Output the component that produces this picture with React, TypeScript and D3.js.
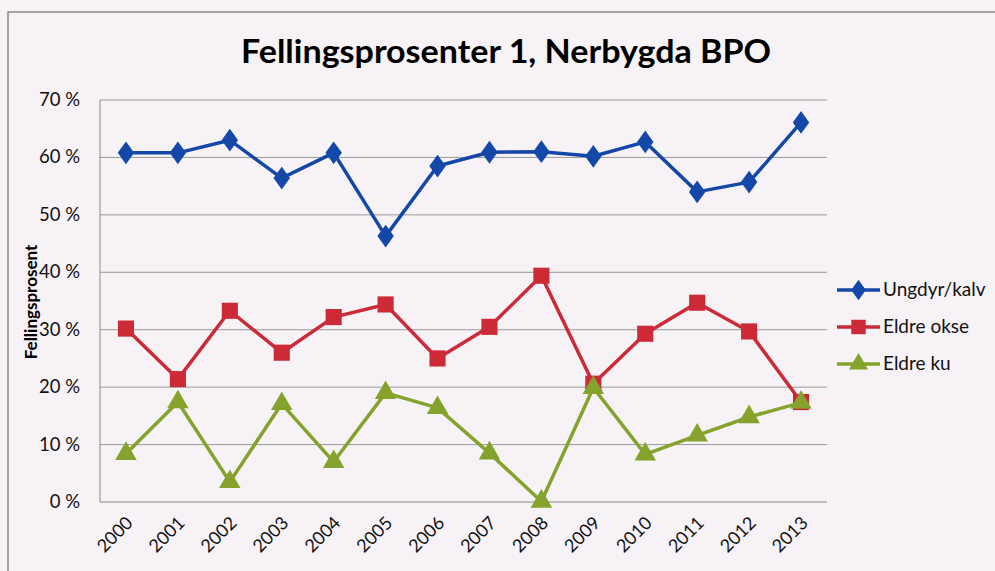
import React, { useEffect, useRef } from 'react'
import * as d3 from 'd3'

const years = ['2000', '2001', '2002', '2003', '2004', '2005', '2006', '2007', '2008', '2009', '2010', '2011', '2012', '2013']
const ungdyr = [60.8, 60.8, 63.0, 56.4, 60.8, 46.3, 58.5, 60.9, 61.0, 60.2, 62.7, 54.0, 55.7, 66.1]
const eldreOkse = [30.2, 21.4, 33.3, 26.0, 32.2, 34.4, 25.0, 30.5, 39.4, 20.6, 29.3, 34.7, 29.7, 17.4]
const eldreKu = [8.4, 17.4, 3.5, 17.1, 7.0, 19.0, 16.4, 8.5, 0.1, 19.9, 8.3, 11.6, 14.8, 17.3]
const yTicks = [0, 10, 20, 30, 40, 50, 60, 70]
const seriesNames = ['Ungdyr/kalv', 'Eldre okse', 'Eldre ku']

const W = 995
const H = 571
const FONT = 'Lato, "Open Sans", sans-serif'

export default function App() {
  const ref = useRef<SVGSVGElement>(null)

  useEffect(() => {
    const svg = d3.select(ref.current)
    svg.selectAll('*').remove()

    const left = 100, right = 827, top = 100, bottom = 502

    svg.append('rect').attr('width', W).attr('height', H).attr('fill', '#f6f2f6')
    // outer chart frame
    svg.append('rect')
      .attr('x', 8).attr('y', 12).attr('width', W + 20).attr('height', H + 20)
      .attr('fill', 'none').attr('stroke', '#8a8a8a').attr('stroke-width', 1.5)

    svg.append('text')
      .attr('x', 506).attr('y', 63)
      .attr('text-anchor', 'middle')
      .attr('font-family', FONT).attr('font-weight', 'bold').attr('font-size', 32)
      .attr('textLength', 530).attr('lengthAdjust', 'spacingAndGlyphs')
      .attr('fill', '#000')
      .text('Fellingsprosenter 1, Nerbygda BPO')

    const x = d3.scaleBand().domain(years).range([left, right])
    const y = d3.scaleLinear().domain([0, 70]).range([bottom, top])

    // gridlines
    svg.append('g').selectAll('line').data(yTicks.filter(d => d > 0)).enter()
      .append('line')
      .attr('x1', left).attr('x2', right)
      .attr('y1', d => y(d)).attr('y2', d => y(d))
      .attr('stroke', '#9a9a9a').attr('stroke-width', 1)

    // axes lines
    svg.append('line').attr('x1', left).attr('x2', left).attr('y1', top).attr('y2', bottom)
      .attr('stroke', '#8a8a8a').attr('stroke-width', 1)
    svg.append('line').attr('x1', left).attr('x2', right).attr('y1', bottom).attr('y2', bottom)
      .attr('stroke', '#8a8a8a').attr('stroke-width', 1)

    // y tick labels
    svg.append('g').selectAll('text').data(yTicks).enter()
      .append('text')
      .attr('x', 80).attr('y', d => y(d) + 6)
      .attr('text-anchor', 'end')
      .attr('font-family', FONT).attr('font-size', 18.5).attr('fill', '#111')
      .text(d => d + ' %')

    // x tick labels
    svg.append('g').selectAll('text').data(years).enter()
      .append('text')
      .attr('transform', d => 'translate(' + ((x(d) as number) + x.bandwidth() / 2 + 8) + ',' + 524 + ') rotate(-45)')
      .attr('text-anchor', 'end')
      .attr('font-family', FONT).attr('font-size', 18).attr('fill', '#111')
      .text(d => d)

    svg.append('text')
      .attr('transform', 'translate(37,302) rotate(-90)')
      .attr('text-anchor', 'middle')
      .attr('font-family', FONT).attr('font-weight', 'bold').attr('font-size', 17)
      .attr('fill', '#000')
      .text('Fellingsprosent')

    const cx = (i: number) => (x(years[i]) as number) + x.bandwidth() / 2
    const line = d3.line<number>().x((d, i) => cx(i)).y(d => y(d))

    const series = [
      { data: ungdyr, color: '#1448a8', shape: d3.symbolDiamond, size: 150 },
      { data: eldreOkse, color: '#cc2a36', shape: d3.symbolSquare, size: 260 },
      { data: eldreKu, color: '#84a22c', shape: d3.symbolTriangle, size: 200 },
    ]

    series.forEach(s => {
      svg.append('path').datum(s.data)
        .attr('d', line)
        .attr('fill', 'none').attr('stroke', s.color).attr('stroke-width', 3.5)
        .attr('stroke-linejoin', 'round')
      svg.append('g').selectAll('path').data(s.data).enter()
        .append('path')
        .attr('transform', (d, i) => 'translate(' + cx(i) + ',' + y(d) + ')' + (s.shape === d3.symbolDiamond ? ' scale(1.25,1)' : ''))
        .attr('d', d3.symbol().type(s.shape).size(s.size)())
        .attr('fill', s.color)
    })

    // legend
    const legend = svg.append('g')
    seriesNames.forEach((name, i) => {
      const ly = 290 + i * 37
      const s = series[i]
      legend.append('line').attr('x1', 837).attr('x2', 880).attr('y1', ly).attr('y2', ly)
        .attr('stroke', s.color).attr('stroke-width', 3.5)
      legend.append('path')
        .attr('transform', 'translate(858.5,' + ly + ')' + (s.shape === d3.symbolDiamond ? ' scale(1.25,1)' : ''))
        .attr('d', d3.symbol().type(s.shape).size(s.size * 0.8)())
        .attr('fill', s.color)
      legend.append('text')
        .attr('x', 883).attr('y', ly + 6)
        .attr('font-family', FONT).attr('font-size', 19).attr('fill', '#111')
        .text(name)
    })
  }, [])

  return (
    <svg ref={ref} width={W} height={H} style={{ position: 'absolute', left: 0, top: 0, display: 'block' }}></svg>
  )
}
